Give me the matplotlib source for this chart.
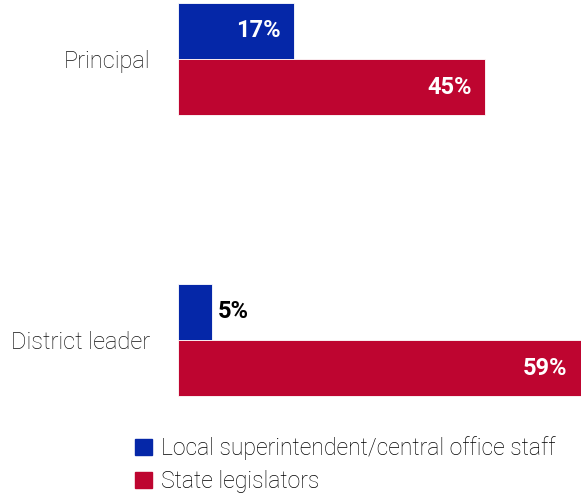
import matplotlib
matplotlib.use("Agg")
import matplotlib.pyplot as plt
from matplotlib.patches import Patch
import numpy as np

categories = ["Principal", "District leader"]
series_names = ["Local superintendent/central office staff", "State legislators"]
local_vals = [17, 5]
state_vals = [45, 59]
colors = ["#0527A8", "#BE0530"]

plt.rcParams['font.family'] = ['Roboto', 'DejaVu Sans']

fig = plt.figure(figsize=(5.81, 4.99), dpi=100)
W, H = 581, 499
top_px, bot_px = 0, 400
ax = fig.add_axes([178 / W, 1 - bot_px / H, 1 - 178 / W, (bot_px - top_px) / H])

pos = np.arange(len(categories))
h = 0.201
b1 = ax.barh(pos - h / 2, local_vals, height=h, color=colors[0], edgecolor="white", linewidth=0.6)
b2 = ax.barh(pos + h / 2, state_vals, height=h, color=colors[1], edgecolor="white", linewidth=0.6)

ax.set_xlim(0, 59)
ax.set_ylim(1 + 60 / 281, -59 / 281)
for s in ax.spines.values():
    s.set_visible(False)
ax.set_xticks([])
ax.set_yticks(pos)
ax.set_yticklabels(categories, fontsize=17, fontweight="light", color="#111111")
ax.tick_params(axis="y", length=0, pad=20)

for bars, vals in ((b1, local_vals), (b2, state_vals)):
    for rect, v in zip(bars, vals):
        y = rect.get_y() + rect.get_height() / 2
        if v >= 10:
            ax.annotate(f"{v}%", (v, y), xytext=(-10, 0), textcoords="offset points",
                        ha="right", va="center", color="white", fontsize=17, fontweight="bold")
        else:
            ax.annotate(f"{v}%", (v, y), xytext=(4, 0), textcoords="offset points",
                        ha="left", va="center", color="black", fontsize=17, fontweight="bold")

handles = [Patch(color=c) for c in colors]
fig.legend(handles, series_names, loc="upper left", bbox_to_anchor=(135 / W, 1 - 436 / H),
           frameon=False, handlelength=0.72, handleheight=0.72,
           handletextpad=0.4, labelspacing=0.45, borderaxespad=0, borderpad=0,
           prop={'weight': 'light', 'size': 16.6})

fig.savefig("out.png", dpi=100)
